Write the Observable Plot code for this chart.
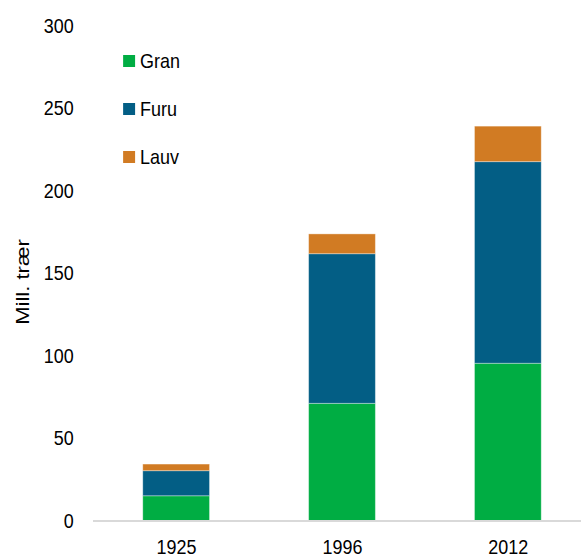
<!DOCTYPE html>
<html>
<head>
<meta charset="utf-8">
<script src="https://cdn.jsdelivr.net/npm/d3@7"></script>
<script src="https://cdn.jsdelivr.net/npm/@observablehq/plot@0.6"></script>
<style>
  html, body { margin: 0; padding: 0; background: #fff; overflow: hidden; }
  #wrap { position: relative; width: 680px; height: 558px; transform: scaleX(0.855); transform-origin: 0 0; font-family: 'Liberation Sans', Arial, sans-serif; }
  .leg { position: absolute; display: flex; align-items: center; font-size: 21px; color: #000; }
  .sw { width: 13.7px; height: 11.7px; margin-right: 5.8px; }
  #ylab { position: absolute; font-size: 22px; color: #000; white-space: nowrap; transform: translate(-50%, -50%) rotate(-90deg); }
</style>
</head>
<body>
<div id="wrap"></div>
<script>
const years = ["1925", "1996", "2012"];
const species = ["Gran", "Furu", "Lauv"];
const gran = [15, 71, 95.3];
const furu = [15.2, 90.7, 122.2];
const lauv = [4, 12, 21.5];
const colors = ["#00ad43", "#035e85", "#d17b23"];
const yTicks = [0, 50, 100, 150, 200, 250, 300];
const yLabel = "Mill. trær";

const S = 0.855;
const W = 680;
const ML = 108.8;
const STEP = 194;

const series = [gran, furu, lauv];
const data = years.flatMap((yr, i) => species.map((sp, j) => ({year: yr, species: sp, value: series[j][i]})));

const chart = Plot.plot({
  width: W,
  height: 558,
  marginLeft: ML,
  marginRight: 0,
  marginTop: 25.5,
  marginBottom: 37.5,
  style: {fontFamily: "'Liberation Sans', Arial, sans-serif", fontSize: "21px", color: "#000", background: "white"},
  x: {domain: years, range: [ML, ML + 3 * STEP], paddingInner: 0.6, paddingOuter: 0.3, label: null},
  y: {domain: [0, 300], label: null},
  color: {domain: species, range: colors},
  marks: [
    Plot.axisY({ticks: yTicks, tickSize: 0, tickPadding: 23, fontSize: 21, label: null}),
    Plot.axisX({tickSize: 0, tickPadding: 18, fontSize: 21, label: null}),
    Plot.barY(data, {x: "year", y: "value", fill: "species", order: species, stroke: "white", strokeOpacity: 0.35, strokeWidth: 1}),
    Plot.ruleY([0], {stroke: "#d9d9d9", strokeWidth: 2})
  ]
});
const wrap = document.getElementById("wrap");
wrap.appendChild(chart);

// legend
const legTops = [61, 109, 157];
species.forEach((sp, j) => {
  const d = document.createElement("div");
  d.className = "leg";
  d.style.left = (123.3 / S) + "px";
  d.style.top = (legTops[j] - 13) + "px";
  d.style.height = "26px";
  const sw = document.createElement("span");
  sw.className = "sw";
  sw.style.background = colors[j];
  const t = document.createElement("span");
  t.textContent = sp;
  d.appendChild(sw);
  d.appendChild(t);
  wrap.appendChild(d);
});

// y label
const yl = document.createElement("div");
yl.id = "ylab";
yl.textContent = yLabel;
yl.style.left = (23 / S) + "px";
yl.style.top = "282px";
wrap.appendChild(yl);
</script>
</body>
</html>
